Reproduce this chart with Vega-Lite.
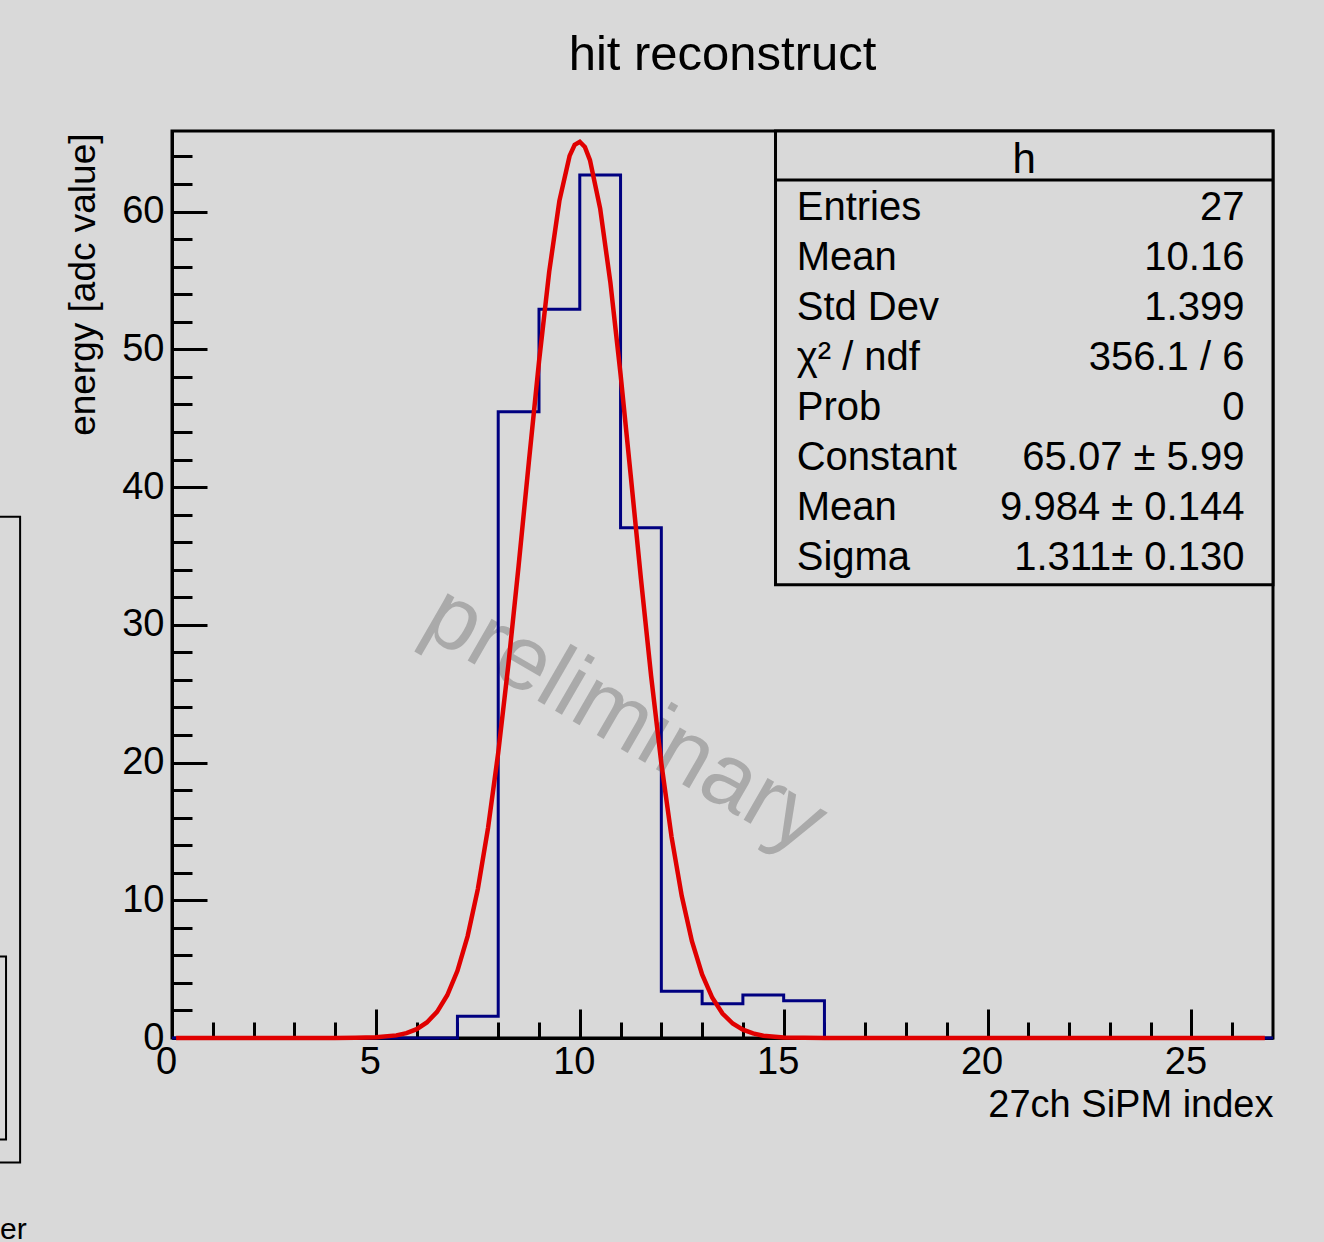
{
  "$schema": "https://vega.github.io/schema/vega-lite/v6.json",
  "width": 1101,
  "height": 907,
  "autosize": {"type": "none"},
  "padding": {"left": 172, "top": 131, "right": 51, "bottom": 204},
  "background": "#d9d9d9",
  "config": {
    "font": "Liberation Sans",
    "view": {"stroke": "black", "strokeWidth": 3},
    "axis": {
      "domainColor": "black", "domainWidth": 3,
      "tickColor": "black", "tickWidth": 3,
      "labelColor": "black", "titleColor": "black",
      "labelFont": "Liberation Sans", "titleFont": "Liberation Sans",
      "titleFontWeight": "normal", "grid": false,
      "labelFlush": false, "labelOverlap": false
    }
  },
  "title": {
    "text": "hit reconstruct",
    "font": "Liberation Sans",
    "fontSize": 49,
    "fontWeight": "normal",
    "color": "black",
    "anchor": "middle",
    "frame": "group",
    "baseline": "alphabetic",
    "offset": 11
  },
  "datasets": {
    "hist": [
      {"x": 0, "h": 0}, {"x": 1, "h": 0}, {"x": 2, "h": 0}, {"x": 3, "h": 0},
      {"x": 4, "h": 0}, {"x": 5, "h": 0}, {"x": 6, "h": 0}, {"x": 7, "h": 1.58},
      {"x": 8, "h": 45.46}, {"x": 9, "h": 52.9}, {"x": 10, "h": 62.66}, {"x": 11, "h": 37.05},
      {"x": 12, "h": 3.4}, {"x": 13, "h": 2.49}, {"x": 14, "h": 3.13}, {"x": 15, "h": 2.7},
      {"x": 16, "h": 0}, {"x": 17, "h": 0}, {"x": 18, "h": 0}, {"x": 19, "h": 0},
      {"x": 20, "h": 0}, {"x": 21, "h": 0}, {"x": 22, "h": 0}, {"x": 23, "h": 0},
      {"x": 24, "h": 0}, {"x": 25, "h": 0}, {"x": 26, "h": 0}, {"x": 27, "h": 0}
    ],
    "gaus": [
      {"x": 0.1, "f": 0}, {"x": 4, "f": 0.002}, {"x": 4.5, "f": 0.01}, {"x": 5, "f": 0.047},
      {"x": 5.5, "f": 0.19}, {"x": 5.75, "f": 0.35}, {"x": 6, "f": 0.64}, {"x": 6.25, "f": 1.13},
      {"x": 6.5, "f": 1.9}, {"x": 6.75, "f": 3.1}, {"x": 7, "f": 4.88}, {"x": 7.25, "f": 7.4},
      {"x": 7.5, "f": 10.81}, {"x": 7.75, "f": 15.24}, {"x": 8, "f": 20.71}, {"x": 8.25, "f": 27.13},
      {"x": 8.5, "f": 34.29}, {"x": 8.75, "f": 41.78}, {"x": 9, "f": 49.09}, {"x": 9.25, "f": 55.63},
      {"x": 9.5, "f": 60.78}, {"x": 9.75, "f": 64.04}, {"x": 9.875, "f": 64.85}, {"x": 10, "f": 65.07},
      {"x": 10.125, "f": 64.69}, {"x": 10.25, "f": 63.74}, {"x": 10.5, "f": 60.22}, {"x": 10.75, "f": 54.86},
      {"x": 11, "f": 48.19}, {"x": 11.25, "f": 40.82}, {"x": 11.5, "f": 33.34}, {"x": 11.75, "f": 26.26},
      {"x": 12, "f": 19.95}, {"x": 12.25, "f": 14.61}, {"x": 12.5, "f": 10.32}, {"x": 12.75, "f": 7.03},
      {"x": 13, "f": 4.61}, {"x": 13.25, "f": 2.92}, {"x": 13.5, "f": 1.78}, {"x": 13.75, "f": 1.05},
      {"x": 14, "f": 0.6}, {"x": 14.25, "f": 0.33}, {"x": 14.5, "f": 0.17}, {"x": 15, "f": 0.043},
      {"x": 16, "f": 0.003}, {"x": 26.8, "f": 0}
    ],
    "stats": [
      {"stat": "entries", "label": "Entries", "value": "27"},
      {"stat": "mean", "label": "Mean", "value": "10.16"},
      {"stat": "stddev", "label": "Std Dev", "value": "1.399"},
      {"stat": "chi2", "label": "χ² / ndf", "value": "356.1 / 6"},
      {"stat": "prob", "label": "Prob", "value": "0"},
      {"stat": "constant", "label": "Constant", "value": "65.07 ± 5.99"},
      {"stat": "fitmean", "label": "Mean", "value": "9.984 ± 0.144"},
      {"stat": "sigma", "label": "Sigma", "value": "1.311± 0.130"}
    ]
  },
  "layer": [
    {
      "layer": [
        {
          "data": {"values": [{"t": "preliminary"}]},
          "mark": {"type": "text", "angle": 30, "fontSize": 91, "font": "Liberation Sans", "fill": "#aaaaaa", "align": "center", "baseline": "middle"},
          "encoding": {
            "x": {"datum": 11.1},
            "y": {"datum": 23.1},
            "text": {"field": "t"}
          }
        },
        {
          "data": {"name": "hist"},
          "mark": {"type": "line", "interpolate": "step-after", "stroke": "#000080", "strokeWidth": 3},
          "encoding": {
            "x": {
              "field": "x", "type": "quantitative",
              "scale": {"domain": [0, 27], "nice": false, "zero": false},
              "axis": {
                "values": [0,1,2,3,4,5,6,7,8,9,10,11,12,13,14,15,16,17,18,19,20,21,22,23,24,25,26],
                "tickCount": 60,
                "format": "d",
                "tickSize": {"condition": {"test": "datum.value % 5 === 0", "value": -29}, "value": -16},
                "labelExpr": "datum.value % 5 === 0 ? datum.label : ''",
                "labelFontSize": 38,
                "labelBaseline": "alphabetic",
                "labelPadding": 64,
                "labelOffset": -6,
                "title": "27ch SiPM index",
                "titleFontSize": 38,
                "titleAnchor": "end",
                "titleAlign": "right",
                "titleBaseline": "alphabetic",
                "titleX": 1101,
                "titleY": 78
              }
            },
            "y": {
              "field": "h", "type": "quantitative",
              "scale": {"domain": [0, 65.85], "nice": false},
              "axis": {
                "values": [0,2,4,6,8,10,12,14,16,18,20,22,24,26,28,30,32,34,36,38,40,42,44,46,48,50,52,54,56,58,60,62,64],
                "tickCount": 60,
                "format": "d",
                "tickSize": {"condition": {"test": "datum.value % 10 === 0", "value": -35}, "value": -20},
                "labelExpr": "datum.value % 10 === 0 ? datum.label : ''",
                "labelFontSize": 38,
                "labelBaseline": "middle",
                "labelPadding": 43,
                "title": "energy [adc value]",
                "titleFontSize": 37,
                "titleAngle": -90,
                "titleAnchor": "end",
                "titleAlign": "right",
                "titleBaseline": "middle",
                "titleX": -89,
                "titleY": 2
              }
            }
          }
        },
        {
          "data": {"name": "gaus"},
          "mark": {"type": "line", "stroke": "#e00000", "strokeWidth": 4.5},
          "encoding": {
            "x": {"field": "x", "type": "quantitative"},
            "y": {"field": "f", "type": "quantitative"}
          }
        },
        {
          "data": {"values": [{"box": "stats"}]},
          "mark": {"type": "rect", "fill": "#d9d9d9", "stroke": "black", "strokeWidth": 3},
          "encoding": {
            "x": {"datum": 14.8},
            "x2": {"datum": 27},
            "y": {"datum": 32.91},
            "y2": {"datum": 65.85}
          }
        },
        {
          "data": {"values": [{"box": "header"}]},
          "mark": {"type": "rule", "stroke": "black", "strokeWidth": 3},
          "encoding": {
            "x": {"datum": 14.8},
            "x2": {"datum": 27},
            "y": {"datum": 62.3}
          }
        },
        {
          "data": {"values": [{"name": "h"}]},
          "mark": {"type": "text", "fontSize": 42, "font": "Liberation Sans", "fill": "black", "align": "center", "baseline": "alphabetic"},
          "encoding": {
            "x": {"datum": 20.9},
            "y": {"datum": 62.81},
            "text": {"field": "name"}
          }
        },
        {
          "data": {"values": [{"panel": "outer"}]},
          "mark": {"type": "rect", "fill": null, "stroke": "black", "strokeWidth": 2},
          "encoding": {
            "x": {"datum": -5},
            "x2": {"datum": -3.725},
            "y": {"datum": 37.84},
            "y2": {"datum": -9.03}
          }
        },
        {
          "data": {"values": [{"panel": "inner"}]},
          "mark": {"type": "rect", "fill": null, "stroke": "black", "strokeWidth": 2},
          "encoding": {
            "x": {"datum": -5},
            "x2": {"datum": -4.07},
            "y": {"datum": 5.91},
            "y2": {"datum": -7.37}
          }
        },
        {
          "data": {"values": [{"t": "er"}]},
          "mark": {"type": "text", "fontSize": 30, "font": "Liberation Sans", "fill": "black", "align": "left", "baseline": "alphabetic"},
          "encoding": {
            "x": {"datum": -4.216},
            "y": {"datum": -14.6},
            "text": {"field": "t"}
          }
        }
      ]
    },
    {
      "data": {"name": "stats"},
      "mark": {"type": "text", "fontSize": 40, "font": "Liberation Sans", "fill": "black", "align": "left", "baseline": "alphabetic"},
      "encoding": {
        "x": {"datum": 15.32},
        "y": {"field": "stat", "type": "ordinal", "sort": null, "scale": {"type": "point", "range": [89, 439], "padding": 0}, "axis": null},
        "text": {"field": "label"}
      }
    },
    {
      "data": {"name": "stats"},
      "mark": {"type": "text", "fontSize": 40, "font": "Liberation Sans", "fill": "black", "align": "right", "baseline": "alphabetic"},
      "encoding": {
        "x": {"datum": 26.3},
        "y": {"field": "stat", "type": "ordinal", "sort": null, "scale": {"type": "point", "range": [89, 439], "padding": 0}, "axis": null},
        "text": {"field": "value"}
      }
    }
  ],
  "resolve": {"scale": {"y": "independent"}}
}
